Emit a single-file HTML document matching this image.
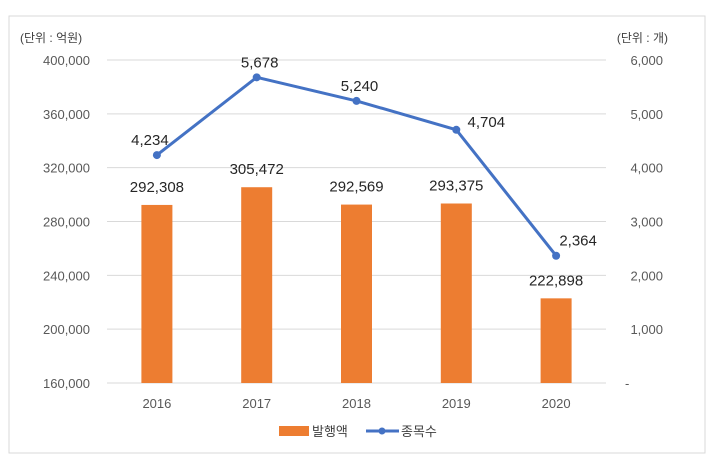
<!DOCTYPE html>
<html><head><meta charset="utf-8"><style>
body{margin:0;background:#fff;}
svg text{font-family:"Liberation Sans","Noto Sans CJK KR",sans-serif;}
</style></head><body>
<svg width="709" height="469" xmlns="http://www.w3.org/2000/svg">
<rect x="9" y="16" width="696" height="437" fill="#fff" stroke="#d9d9d9"/>
<g id="grid"></g><g id="bars"></g><g id="line"></g><g id="labels"></g>
<text x="20" y="42" font-size="12" fill="#404040">(단위 : 억원)</text>
<text x="668" y="42" font-size="12" fill="#404040" text-anchor="end">(단위 : 개)</text>
<g>
<rect x="279" y="426" width="30" height="10" fill="#ed7d31"/>
<text x="312" y="436" font-size="13" fill="#404040">발행액</text>
<line x1="366" y1="431" x2="399" y2="431" stroke="#4472c4" stroke-width="3"/>
<circle cx="382" cy="431" r="3.5" fill="#4472c4"/>
<text x="401" y="436" font-size="13" fill="#404040">종목수</text>
</g>
</svg>
<script>
const categories=["2016","2017","2018","2019","2020"];
const amounts=[292308,305472,292569,293375,222898];
const counts=[4234,5678,5240,4704,2364];
const leftTicks=[160000,200000,240000,280000,320000,360000,400000];
const rightTicks=[0,1000,2000,3000,4000,5000,6000];
const NS="http://www.w3.org/2000/svg";
const X0=107,X1=606,YT=60,YB=383;
const yL=v=>YB-(v-160000)/(400000-160000)*(YB-YT);
const yR=v=>YB-v/6000*(YB-YT);
const xC=i=>X0+(X1-X0)/categories.length*(i+0.5);
const fmt=v=>v.toLocaleString('en-US');
function mk(tag,attrs,parent,text){const e=document.createElementNS(NS,tag);for(const k in attrs)e.setAttribute(k,attrs[k]);if(text!==undefined)e.textContent=text;document.getElementById(parent).appendChild(e);return e;}
leftTicks.forEach(t=>{const y=yL(t);
const g=mk('line',{x1:X0,x2:X1,y1:y,y2:y,stroke:'#d9d9d9','stroke-width':1},'grid');


const l=mk('text',{x:90,y:y+5,'font-size':13,fill:'#595959','text-anchor':'end'},'grid',fmt(t));

});
rightTicks.forEach(t=>{const y=yR(t);
const l=mk('text',{x:t===0?625:663,y:y+5,'font-size':13,fill:'#595959','text-anchor':t===0?'start':'end'},'grid',t===0?'-':fmt(t));

});
categories.forEach((c,i)=>{const x=xC(i);
const l=mk('text',{x:x,y:408,'font-size':13,fill:'#595959','text-anchor':'middle'},'grid',c);


const b=mk('rect',{x:x-15.5,y:yL(amounts[i]),width:31,height:YB-yL(amounts[i]),fill:'#ed7d31'},'bars');


const bl=mk('text',{x:x,y:yL(amounts[i])-13,'font-size':15,fill:'#262626','text-anchor':'middle'},'labels',fmt(amounts[i]));

});
const pts=counts.map((v,i)=>xC(i)+','+yR(v)).join(' ');
const pl=mk('polyline',{points:pts,fill:'none',stroke:'#4472c4','stroke-width':3,'stroke-linejoin':'round'},'line');


const off=[[-7,-10],[3,-10],[3,-10],[30,-3],[22,-10]];
counts.forEach((v,i)=>{const x=xC(i),y=yR(v);
const p=mk('circle',{cx:x,cy:y,r:4,fill:'#4472c4'},'line');


const t=mk('text',{x:x+off[i][0],y:y+off[i][1],'font-size':15,fill:'#262626','text-anchor':'middle'},'labels',fmt(v));

});
</script>
</body></html>
